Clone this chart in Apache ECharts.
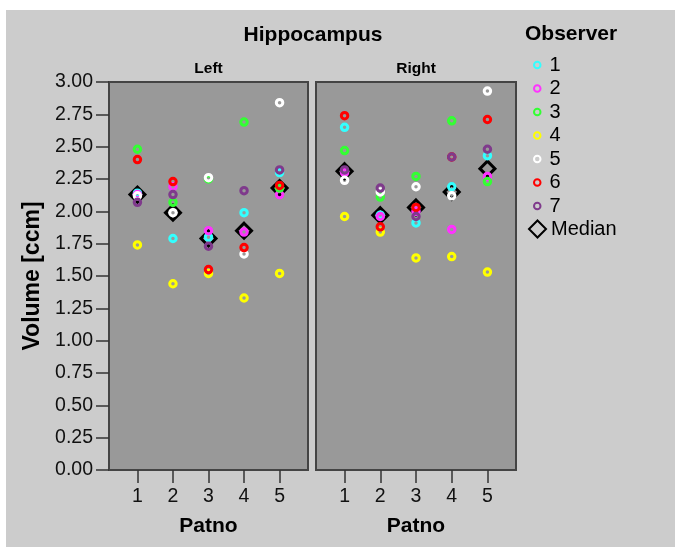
<!DOCTYPE html>
<html>
<head>
<meta charset="utf-8">
<script src="https://cdn.jsdelivr.net/npm/echarts@6/dist/echarts.min.js"></script>
<style>
html,body{margin:0;padding:0;background:#fff;}
#chart{width:675px;height:547px;}
</style>
</head>
<body>
<div id="chart"></div>
<script>
// ---- data ----
var patno = [1, 2, 3, 4, 5];
var panels = ['Left', 'Right'];
var observers = ['1', '2', '3', '4', '5', '6', '7'];
var observerColors = ['#33ffff', '#ff33ff', '#33ff33', '#ffff00', '#ffffff', '#ff0000', '#7f3a8c'];
var yTicks = [0, 0.25, 0.5, 0.75, 1, 1.25, 1.5, 1.75, 2, 2.25, 2.5, 2.75, 3];

var obs1Left  = [2.14, 1.79, 1.80, 1.99, 2.30];
var obs1Right = [2.65, 1.97, 1.91, 2.19, 2.43];
var obs2Left  = [2.13, 2.19, 1.85, 1.84, 2.13];
var obs2Right = [2.30, 1.96, 2.00, 1.86, 2.27];
var obs3Left  = [2.48, 2.07, 2.25, 2.69, 2.18];
var obs3Right = [2.47, 2.11, 2.27, 2.70, 2.23];
var obs4Left  = [1.74, 1.44, 1.52, 1.33, 1.52];
var obs4Right = [1.96, 1.84, 1.64, 1.65, 1.53];
var obs5Left  = [2.12, 1.99, 2.26, 1.67, 2.84];
var obs5Right = [2.24, 2.15, 2.19, 2.12, 2.93];
var obs6Left  = [2.40, 2.23, 1.55, 1.72, 2.20];
var obs6Right = [2.74, 1.88, 2.03, 2.42, 2.71];
var obs7Left  = [2.07, 2.13, 1.73, 2.16, 2.32];
var obs7Right = [2.32, 2.18, 1.96, 2.42, 2.48];
var medianLeft  = [2.13, 1.99, 1.79, 1.85, 2.18];
var medianRight = [2.31, 1.97, 2.03, 2.15, 2.33];

var leftValues  = [obs1Left, obs2Left, obs3Left, obs4Left, obs5Left, obs6Left, obs7Left];
var rightValues = [obs1Right, obs2Right, obs3Right, obs4Right, obs5Right, obs6Right, obs7Right];

// ---- chart ----
var FONT = '"Liberation Sans", Arial, sans-serif';
function pairs(vals) { return vals.map(function (v, i) { return [patno[i], v]; }); }

var series = [];
[medianLeft, medianRight].forEach(function (vals, gi) {
  series.push({
    name: 'Median', type: 'scatter', xAxisIndex: gi, yAxisIndex: gi,
    symbol: 'diamond', symbolSize: 15, z: 2,
    itemStyle: { color: 'transparent', borderColor: '#000', borderWidth: 3, opacity: 1 },
    data: pairs(vals), silent: true
  });
});
[leftValues, rightValues].forEach(function (set, gi) {
  set.forEach(function (vals, k) {
    series.push({
      name: observers[k], type: 'scatter', xAxisIndex: gi, yAxisIndex: gi,
      symbol: 'circle', symbolSize: 6.5, z: 3,
      itemStyle: { color: 'transparent', borderColor: observerColors[k], borderWidth: 3, opacity: 1 },
      data: pairs(vals), silent: true
    });
  });
});

function xAxis(gi) {
  return {
    type: 'value', gridIndex: gi, min: 0.2, max: 5.8,
    name: 'Patno', nameLocation: 'middle', nameGap: 46,
    nameTextStyle: { fontFamily: FONT, fontSize: 21, fontWeight: 'bold', color: '#000' },
    axisLine: { show: false },
    axisTick: { show: true, customValues: patno, length: 13, lineStyle: { color: '#333', width: 1.5 } },
    axisLabel: { customValues: patno, fontFamily: FONT, fontSize: 19.5, color: '#111', margin: 17 },
    splitLine: { show: false }
  };
}
function yAxis(gi) {
  var a = {
    type: 'value', gridIndex: gi, min: 0, max: 3, interval: 0.25,
    splitLine: { show: false },
    axisLine: { show: false }
  };
  if (gi === 0) {
    a.name = 'Volume [ccm]';
    a.nameLocation = 'middle';
    a.nameGap = 65;
    a.nameTextStyle = { fontFamily: FONT, fontSize: 23, fontWeight: 'bold', color: '#000' };
    a.axisTick = { show: true, length: 13, lineStyle: { color: '#333', width: 1.5 } };
    a.axisLabel = { fontFamily: FONT, fontSize: 19.5, color: '#111', margin: 16,
      formatter: function (v) { return v.toFixed(2); } };
  } else {
    a.axisTick = { show: false };
    a.axisLabel = { show: false };
  }
  return a;
}

var chart = echarts.init(document.getElementById('chart'), null, { renderer: 'canvas' });
chart.setOption({
  backgroundColor: '#ffffff',
  animation: false,
  graphic: [
    { type: 'rect', z: -10, shape: { x: 6, y: 10, width: 669, height: 537 }, style: { fill: '#cccccc' } },
    { type: 'text', x: 313, y: 35, style: { text: 'Hippocampus', font: 'bold 21px ' + FONT, fill: '#000', align: 'center', verticalAlign: 'middle' } },
    { type: 'text', x: 208.5, y: 69, style: { text: panels[0], font: 'bold 15.5px ' + FONT, fill: '#000', align: 'center', verticalAlign: 'middle' } },
    { type: 'text', x: 416, y: 69, style: { text: panels[1], font: 'bold 15.5px ' + FONT, fill: '#000', align: 'center', verticalAlign: 'middle' } },
    { type: 'text', x: 525, y: 34, style: { text: 'Observer', font: 'bold 21px ' + FONT, fill: '#000', align: 'left', verticalAlign: 'middle' } }
  ],
  grid: [
    { left: 109, top: 82, width: 199, height: 388, show: true, backgroundColor: '#999999', borderColor: '#444', borderWidth: 2 },
    { left: 316, top: 82, width: 200, height: 388, show: true, backgroundColor: '#999999', borderColor: '#444', borderWidth: 2 }
  ],
  xAxis: [xAxis(0), xAxis(1)],
  yAxis: [yAxis(0), yAxis(1)],
  legend: [
    {
      orient: 'vertical', left: 528, top: 50,
      data: observers, itemWidth: 6.5, itemHeight: 6.5, itemGap: 3.5,
      icon: 'circle',
      textStyle: { fontFamily: FONT, fontSize: 20, color: '#000', lineHeight: 20, padding: [0, 0, 0, 4] },
      selectedMode: false
    },
    {
      orient: 'vertical', left: 523, top: 214,
      data: ['Median'], itemWidth: 17, itemHeight: 17, itemGap: 2,
      icon: 'diamond',
      textStyle: { fontFamily: FONT, fontSize: 20, color: '#000', lineHeight: 20 },
      selectedMode: false
    }
  ],
  series: series
});
</script>
</body>
</html>
